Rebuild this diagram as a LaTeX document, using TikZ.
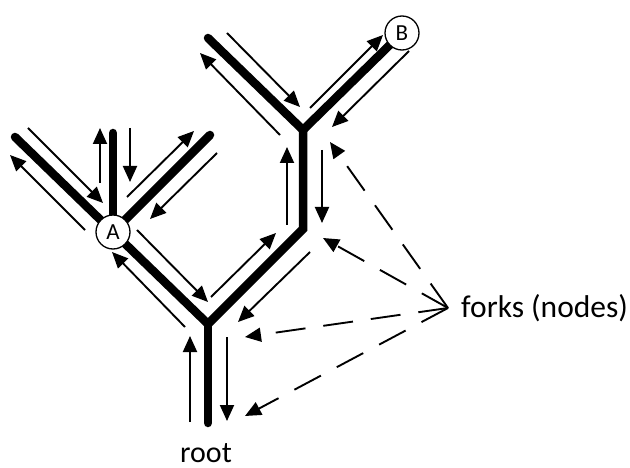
\documentclass[tikz,border=0pt]{standalone}
\usepackage{fontspec}
\setmainfont{Carlito}
\usetikzlibrary{arrows.meta}
\begin{document}
\begin{tikzpicture}[x=1pt,y=-1pt,
  branch/.style={line width=8.5pt, line cap=round, line join=miter},
  flow/.style={line width=1.9pt, -{Triangle[length=16pt,width=14pt]}},
  pointer/.style={line width=1.9pt, dash pattern=on 30pt off 18pt,
    -{Triangle[length=16pt,width=14pt]}},
  forknode/.style={circle, draw, line width=1.3pt, fill=white,
    minimum size=34pt, inner sep=0pt, font=\fontsize{23}{27}\selectfont},
  caption/.style={font=\fontsize{30}{36}\selectfont, inner sep=0pt}]

\useasboundingbox (0,0) rectangle (630,468);

% tree skeleton
\coordinate (R)  at (208,423);
\coordinate (F1) at (208,324);
\coordinate (F2) at (303,229);
\coordinate (F3) at (303,130);
\coordinate (Ac) at (113,232);
\coordinate (Bc) at (402,33);
\coordinate (EL) at (15,137);
\coordinate (EM) at (113,133);
\coordinate (ER) at (210,135);
\coordinate (ET) at (208,38);

\draw[branch] (R) -- (F1);
\draw[branch] (Ac) -- (F1) -- (F2) -- (F3);
\draw[branch] (ET) -- (F3) -- (Bc);
\draw[branch] (EL) -- (Ac) -- (ER);
\draw[branch] (Ac) -- (EM);

\node[forknode] (A) at (Ac) {A};
\node[forknode] (B) at (Bc) {B};

% traversal arrows alongside each edge
\draw[flow] (190,422) -- (190,336);
\draw[flow] (227,337) -- (227,421);
\draw[flow] (185,327) -- (112,252);
\draw[flow] (137,230) -- (208,302);
\draw[flow] (211,297) -- (276,233);
\draw[flow] (310,252) -- (238,322);
\draw[flow] (287,225) -- (287,147);
\draw[flow] (322,150) -- (322,223);
\draw[flow] (227,33) -- (300,107);
\draw[flow] (280,135) -- (200,53);
\draw[flow] (310,108) -- (383,35);
\draw[flow] (409,51) -- (332,127);
\draw[flow] (28,128) -- (103,203);
\draw[flow] (85,230) -- (10,155);
\draw[flow] (100,183) -- (100,128);
\draw[flow] (130,128) -- (130,182);
\draw[flow] (127,197) -- (194,131);
\draw[flow] (217,153) -- (150,219);

% labels
\node[caption, anchor=base] (root) at (206,462) {root};
\node[caption, anchor=base west, font=\fontsize{31.5}{37}\selectfont] (forks) at (461,317) {forks (nodes)};

% pointers from the label to the forks
\coordinate (hub) at (448,308);
\coordinate (T3) at (330,142);
\coordinate (T2) at (323,238);
\coordinate (T1) at (245,337);
\coordinate (T0) at (245,416);
\draw[pointer] (hub) -- (T3);
\draw[pointer] (hub) -- (T2);
\draw[pointer] (hub) -- (T1);
\draw[pointer] (hub) -- (T0);
\end{tikzpicture}
\end{document}
